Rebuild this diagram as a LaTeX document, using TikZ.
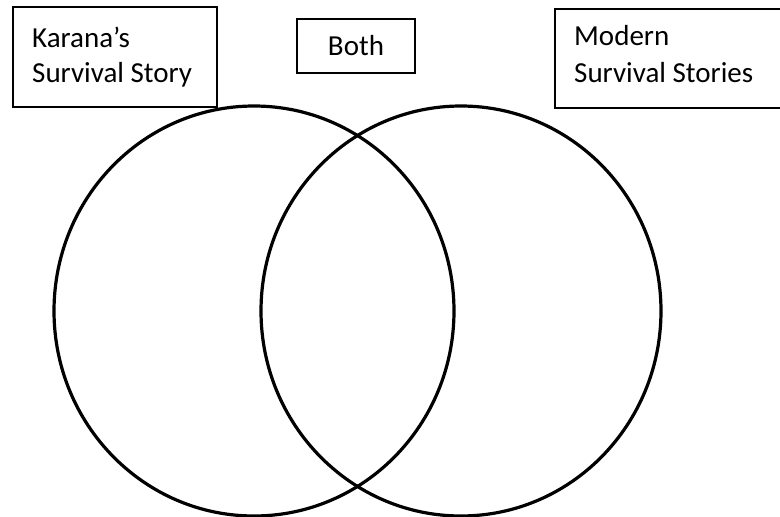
\documentclass[tikz,border=0pt]{standalone}
\usepackage{fontspec}
\setmainfont{Carlito}
\begin{document}
\begin{tikzpicture}[x=1pt,y=-1pt,
  box/.style={draw=black, line width=1.5pt, fill=white, inner sep=0pt},
  lbl/.style={anchor=base west, inner sep=0pt, font=\fontsize{29}{35}\selectfont},
  ring/.style={draw=black, line width=3.2pt}]
\useasboundingbox (0,0) rectangle (780,517);
\fill[white] (0,0) rectangle (780,517);
% circles
\draw[ring] (254,311) ellipse [x radius=200pt, y radius=205pt];
\draw[ring] (461,311) ellipse [x radius=200pt, y radius=205pt];
% boxes
\node (kbox) [box, minimum width=204pt, minimum height=100pt, anchor=north west] at (12,6) {};
\node (mbox) [box, minimum width=230pt, minimum height=99pt, anchor=north west] at (554,8) {};
\node (both) [box, minimum width=118pt, minimum height=54pt, font=\fontsize{29}{35}\selectfont] at (356,46) {Both};
% labels
\node (k1) [lbl] at (32,47) {Karana’s};
\node (k2) [lbl] at (32,82) {Survival Story};
\node (m1) [lbl] at (574,45) {Modern};
\node (m2) [lbl] at (574,82) {Survival Stories};
\end{tikzpicture}
\end{document}
